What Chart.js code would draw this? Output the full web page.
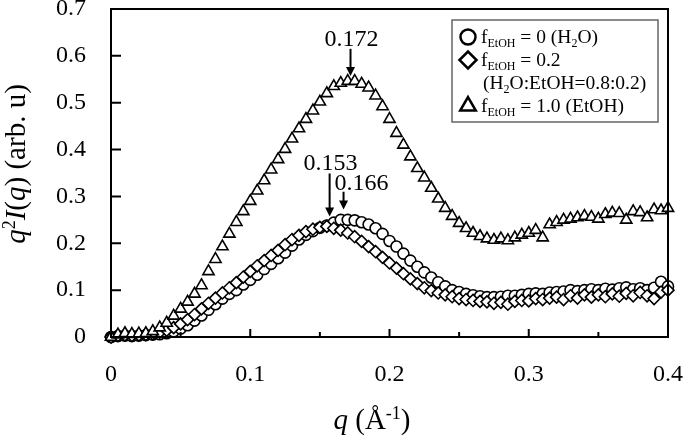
<!DOCTYPE html>
<html><head><meta charset="utf-8">
<script src="https://cdn.jsdelivr.net/npm/chart.js@4.4.1/dist/chart.umd.min.js"></script>
<style>html,body{margin:0;padding:0;background:#fff}#wrap{width:685px;height:439px;position:relative}</style>
</head><body><div id="wrap"><canvas id="c" width="685" height="439"></canvas></div>
<script>
// ---- data ----
const qValues = [0,0.005,0.01,0.015,0.02,0.025,0.03,0.035,0.04,0.045,0.05,0.055,0.06,0.065,0.07,0.075,0.08,0.085,0.09,0.095,
0.1,0.105,0.11,0.115,0.12,0.125,0.13,0.135,0.14,0.145,0.15,0.155,0.16,0.165,0.17,0.175,0.18,0.185,0.19,0.195,
0.2,0.205,0.21,0.215,0.22,0.225,0.23,0.235,0.24,0.245,0.25,0.255,0.26,0.265,0.27,0.275,0.28,0.285,0.29,0.295,
0.3,0.305,0.31,0.315,0.32,0.325,0.33,0.335,0.34,0.345,0.35,0.355,0.36,0.365,0.37,0.375,0.38,0.385,0.39,0.395,0.4];
const waterValues = [0,0.002,0.003,0.002,0.003,0.004,0.005,0.006,0.008,0.012,0.018,0.025,0.035,0.046,0.058,0.07,0.082,0.092,0.1,0.112,
0.122,0.133,0.145,0.156,0.168,0.18,0.195,0.208,0.218,0.226,0.233,0.238,0.244,0.25,0.25,0.249,0.245,0.24,0.232,0.22,
0.205,0.193,0.178,0.163,0.15,0.138,0.127,0.117,0.108,0.1,0.096,0.092,0.089,0.087,0.085,0.085,0.086,0.088,0.088,0.09,
0.092,0.093,0.092,0.095,0.096,0.097,0.1,0.098,0.1,0.102,0.1,0.103,0.101,0.104,0.106,0.102,0.104,0.1,0.105,0.118,0.108];
const mixValues = [0,0.003,0.004,0.003,0.004,0.005,0.007,0.01,0.014,0.02,0.028,0.037,0.048,0.06,0.072,0.083,0.094,0.105,0.116,0.128,
0.14,0.152,0.163,0.174,0.185,0.197,0.208,0.217,0.225,0.23,0.234,0.236,0.232,0.228,0.222,0.214,0.204,0.193,0.182,0.17,
0.158,0.147,0.135,0.124,0.114,0.105,0.099,0.094,0.09,0.086,0.082,0.08,0.078,0.076,0.075,0.072,0.074,0.07,0.076,0.078,
0.077,0.082,0.08,0.083,0.085,0.08,0.088,0.083,0.09,0.085,0.09,0.086,0.092,0.087,0.093,0.088,0.095,0.088,0.082,0.096,0.1];
const ethanolValues = [0,0.005,0.008,0.006,0.007,0.008,0.012,0.02,0.03,0.045,0.06,0.075,0.092,0.11,0.14,0.166,0.193,0.22,0.245,0.268,
0.29,0.312,0.334,0.357,0.379,0.401,0.423,0.445,0.465,0.483,0.502,0.52,0.535,0.542,0.546,0.546,0.54,0.532,0.515,0.492,
0.465,0.435,0.41,0.385,0.36,0.34,0.318,0.295,0.275,0.258,0.243,0.232,0.222,0.215,0.21,0.207,0.21,0.206,0.212,0.218,
0.222,0.228,0.212,0.24,0.245,0.25,0.252,0.255,0.258,0.256,0.252,0.262,0.265,0.264,0.25,0.268,0.266,0.255,0.272,0.27,0.275];
const xTicks = [0,0.1,0.2,0.3,0.4];
const xMinorTicks = [0.05,0.15,0.25,0.35];
const yTicks = [0,0.1,0.2,0.3,0.4,0.5,0.6,0.7];
const peakLabels = ['0.172','0.153','0.166'];
const peakArrowQ = [0.172,0.157,0.167];
const peakArrowTail = [0.615,0.349,0.31];
const peakArrowTip = [0.557,0.257,0.272];

const FAM = '"Liberation Serif","Times New Roman",serif';

function drawRich(ctx, runs, x, y, size, align) {
  const parts = runs.map(r => {
    const s = (r.sub || r.sup) ? Math.round(size * 0.62) : size;
    const font = (r.it ? 'italic ' : '') + s + 'px ' + FAM;
    ctx.font = font;
    return {t: r.t, font, w: ctx.measureText(r.t).width, dy: r.sub ? size * 0.22 : (r.sup ? -size * 0.36 : 0)};
  });
  const total = parts.reduce((a, p) => a + p.w, 0);
  let cx = align === 'center' ? x - total / 2 : x;
  ctx.textBaseline = 'alphabetic';
  ctx.textAlign = 'left';
  for (const p of parts) { ctx.font = p.font; ctx.fillText(p.t, cx, y + p.dy); cx += p.w; }
}

const decorPlugin = {
  id: 'decor',
  afterDraw(chart) {
    const ctx = chart.ctx, a = chart.chartArea, xs = chart.scales.x, ys = chart.scales.y;
    ctx.save();
    ctx.strokeStyle = '#000'; ctx.fillStyle = '#000';
    // frame
    ctx.lineWidth = 2;
    ctx.strokeRect(a.left, a.top, a.right - a.left, a.bottom - a.top);
    // ticks
    ctx.beginPath();
    for (const v of xTicks) { const px = xs.getPixelForValue(v); ctx.moveTo(px, a.bottom); ctx.lineTo(px, a.bottom - 8); }
    for (const v of xMinorTicks) { const px = xs.getPixelForValue(v); ctx.moveTo(px, a.bottom); ctx.lineTo(px, a.bottom - 5); }
    for (const v of yTicks) { const py = ys.getPixelForValue(v); ctx.moveTo(a.left, py); ctx.lineTo(a.left + 10, py); }
    ctx.stroke();
    // peak annotations
    ctx.lineWidth = 2;
    peakLabels.forEach((lab, i) => {
      const px = xs.getPixelForValue(peakArrowQ[i]);
      const y0 = ys.getPixelForValue(peakArrowTail[i]);
      const y1 = ys.getPixelForValue(peakArrowTip[i]);
      ctx.beginPath(); ctx.moveTo(px, y0); ctx.lineTo(px, y1 - 7); ctx.stroke();
      ctx.beginPath(); ctx.moveTo(px - 4.5, y1 - 9); ctx.lineTo(px + 4.5, y1 - 9); ctx.lineTo(px, y1); ctx.closePath(); ctx.fill();
      ctx.font = '24px ' + FAM; ctx.textBaseline = 'alphabetic';
      if (i === 2) { ctx.textAlign = 'left'; ctx.fillText(lab, px - 9, y0 - 2); }
      else { ctx.textAlign = 'center'; ctx.fillText(lab, px + 1, y0 - 3); }
    });
    // legend box
    ctx.lineWidth = 1.5; ctx.strokeStyle = '#666';
    ctx.strokeRect(452, 20, 206, 102);
    ctx.strokeStyle = '#000';
    const mk = (style, r, x, y) => {
      ctx.fillStyle = '#fff'; ctx.strokeStyle = '#000'; ctx.lineWidth = 2.5;
      Chart.helpers.drawPoint(ctx, {pointStyle: style, radius: r, borderWidth: 2.5, rotation: 0}, x, y);
    };
    mk('circle', 7.5, 468, 37);
    mk('rectRot', 8.5, 468, 60);
    mk('triangle', 9, 468, 106);
    ctx.fillStyle = '#000';
    drawRich(ctx, [{t: 'f'}, {t: 'EtOH', sub: 1}, {t: ' = 0 (H'}, {t: '2', sub: 1}, {t: 'O)'}], 481, 43, 19.5, 'left');
    drawRich(ctx, [{t: 'f'}, {t: 'EtOH', sub: 1}, {t: ' = 0.2'}], 481, 66, 19.5, 'left');
    drawRich(ctx, [{t: '(H'}, {t: '2', sub: 1}, {t: 'O:EtOH=0.8:0.2)'}], 483, 89, 19.5, 'left');
    drawRich(ctx, [{t: 'f'}, {t: 'EtOH', sub: 1}, {t: ' = 1.0 (EtOH)'}], 481, 112, 19.5, 'left');
    // axis titles
    drawRich(ctx, [{t: 'q', it: 1}, {t: ' (\u00C5'}, {t: '-1', sup: 1}, {t: ')'}], 372, 429, 29, 'center');
    ctx.save();
    ctx.translate(25, 164); ctx.rotate(-Math.PI / 2);
    drawRich(ctx, [{t: 'q', it: 1}, {t: '2', sup: 1}, {t: 'I', it: 1}, {t: '('}, {t: 'q', it: 1}, {t: ') (arb. u)'}], 0, 0, 29, 'center');
    ctx.restore();
    ctx.restore();
  }
};

const mkData = vals => qValues.map((q, i) => ({x: q, y: vals[i]}));
const common = {backgroundColor: '#fff', borderColor: '#000', pointBorderWidth: 1.6, showLine: false, clip: false};

new Chart(document.getElementById('c'), {
  type: 'scatter',
  data: {
    datasets: [
      Object.assign({label: 'f_EtOH = 1.0 (EtOH)', data: mkData(ethanolValues), pointStyle: 'triangle', pointRadius: 6.5}, common),
      Object.assign({label: 'f_EtOH = 0.2', data: mkData(mixValues), pointStyle: 'rectRot', pointRadius: 6}, common),
      Object.assign({label: 'f_EtOH = 0 (H2O)', data: mkData(waterValues), pointStyle: 'circle', pointRadius: 5.5}, common)
    ]
  },
  options: {
    responsive: false, animation: false, devicePixelRatio: 1,
    layout: {padding: {left: 0, right: 17, top: 9, bottom: 0}},
    plugins: {legend: {display: false}, tooltip: {enabled: false}},
    scales: {
      x: {
        type: 'linear', min: 0, max: 0.4,
        afterBuildTicks: s => { s.ticks = xTicks.map(v => ({value: v})); },
        afterFit: s => { s.height = 102; s.paddingLeft = 0; s.paddingRight = 0; },
        grid: {display: false, drawTicks: false}, border: {display: false},
        ticks: {color: '#000', font: {family: FAM, size: 24}, padding: 23, maxRotation: 0, callback: v => String(Number(v.toFixed(1)))}
      },
      y: {
        min: 0, max: 0.7,
        afterBuildTicks: s => { s.ticks = yTicks.map(v => ({value: v})); },
        afterFit: s => { s.width = 111; s.paddingTop = 0; s.paddingBottom = 0; },
        grid: {display: false, drawTicks: false}, border: {display: false},
        ticks: {color: '#000', font: {family: FAM, size: 24}, padding: 25, callback: v => String(Number(v.toFixed(1)))}
      }
    }
  },
  plugins: [decorPlugin]
});
</script></body></html>
